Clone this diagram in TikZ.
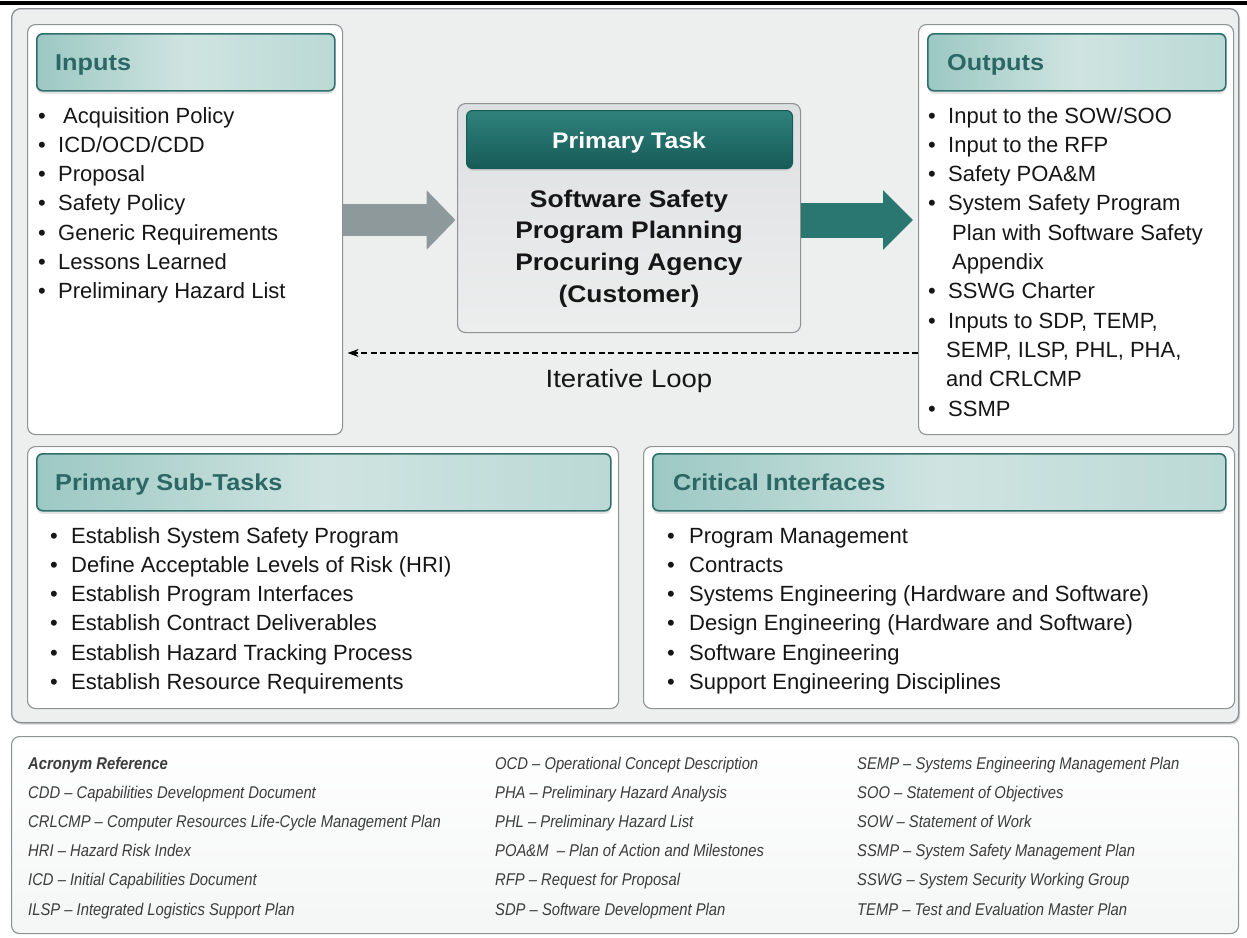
\documentclass[tikz,border=0pt]{standalone}
\usepackage{fontspec}
\setmainfont{Liberation Sans}
\newfontfamily\headfont[FakeStretch=1.1]{Liberation Sans}
\newfontfamily\acrfont[FakeStretch=0.87]{Liberation Sans}
\usetikzlibrary{arrows.meta,shadows}
\definecolor{frameFill}{HTML}{EDEFEF}
\definecolor{frameBorder}{HTML}{8A8E90}
\definecolor{boxBorder}{HTML}{8E9294}
\definecolor{hdrBorder}{HTML}{2E6F6B}
\definecolor{hdrL}{HTML}{9CC8C3}
\definecolor{hdrM}{HTML}{CFE4E1}
\definecolor{hdrR}{HTML}{BBD9D5}
\definecolor{titleCol}{HTML}{2B6865}
\definecolor{ptTop}{HTML}{2F827C}
\definecolor{ptBot}{HTML}{175B57}
\definecolor{primTop}{HTML}{DDE0E1}
\definecolor{primBot}{HTML}{ECEEEE}
\definecolor{grayArrow}{HTML}{8D999B}
\definecolor{tealArrow}{HTML}{2A7671}
\definecolor{acrText}{HTML}{3C3C3C}
\definecolor{textCol}{HTML}{161616}
\newcommand\bul[1][20pt]{\makebox[#1][l]{•}}
\begin{document}
\begin{tikzpicture}[x=1pt,y=-1pt,
  frame/.style={draw=frameBorder, line width=1.3pt, rounded corners=9pt, fill=frameFill,
    inner sep=0pt, anchor=north west,
    drop shadow={shadow xshift=1.5pt, shadow yshift=-2pt, opacity=0.35}},
  panel/.style={draw=boxBorder, line width=1.1pt, rounded corners=8pt, fill=white,
    inner sep=0pt, anchor=north west},
  header/.style={draw=hdrBorder, line width=1.6pt, rounded corners=6pt,
    left color=hdrL, right color=hdrR, middle color=hdrM, inner sep=0pt, anchor=north west,
    drop shadow={shadow xshift=0pt, shadow yshift=-3pt, opacity=0.22}},
  ptheader/.style={draw=ptBot, line width=1pt, rounded corners=6pt,
    top color=ptTop, bottom color=ptBot, inner sep=0pt, anchor=north west,
    drop shadow={shadow xshift=0pt, shadow yshift=-2pt, opacity=0.25}},
  primbox/.style={draw=boxBorder, line width=1.1pt, rounded corners=8pt,
    top color=primTop, bottom color=primBot, inner sep=0pt, anchor=north west},
  title/.style={inner sep=0pt, anchor=base west, text=titleCol,
    font=\headfont\bfseries\fontsize{23}{28}\selectfont},
  listtext/.style={inner sep=0pt, anchor=base west, text=textCol,
    font=\fontsize{22}{29.3}\selectfont},
  acrtext/.style={inner sep=0pt, anchor=base west, text=acrText,
    font=\acrfont\itshape\fontsize{17}{29.2}\selectfont},
  grayarr/.style={draw=grayArrow, line width=32pt, -{Triangle[length=29pt,width=58pt]}},
  tealarr/.style={draw=tealArrow, line width=35pt, -{Triangle[length=30pt,width=58pt]}},
  loop/.style={draw=black, line width=1.3pt, dash pattern=on 6pt off 3.5pt,
    -{Stealth[length=11pt,width=8pt]}}
]
\useasboundingbox (0,0) rectangle (1247,937);
\fill[black] (0,1) rectangle (1247,4.5);

% main frame
\node[frame, minimum width=1227pt, minimum height=714pt] (frame) at (11,8) {};

% Inputs
\node[panel, minimum width=315pt, minimum height=410pt] (inbox) at (27,24) {};
\node[header, minimum width=298pt, minimum height=57pt] (inhdr) at (36,33) {};
\node[title] (intitle) at (55,70.5) {Inputs};
\node[listtext] (inlist) at (38,123) {\begin{tabular}[t]{@{}l@{}}
\bul\hspace{5pt}Acquisition Policy\\
\bul ICD/OCD/CDD\\
\bul Proposal\\
\bul Safety Policy\\
\bul Generic Requirements\\
\bul Lessons Learned\\
\bul Preliminary Hazard List
\end{tabular}};

% Outputs
\node[panel, minimum width=315pt, minimum height=410pt] (outbox) at (918,24) {};
\node[header, minimum width=298pt, minimum height=57pt] (outhdr) at (927,33) {};
\node[title] (outtitle) at (947,70.5) {Outputs};
\node[listtext] (outlist) at (928,123) {\begin{tabular}[t]{@{}l@{}}
\bul Input to the SOW/SOO\\
\bul Input to the RFP\\
\bul Safety POA\&M\\
\bul System Safety Program\\
\hspace{24pt}Plan with Software Safety\\
\hspace{24pt}Appendix\\
\bul SSWG Charter\\
\bul Inputs to SDP, TEMP,\\
\hspace{18pt}SEMP, ILSP, PHL, PHA,\\
\hspace{18pt}and CRLCMP\\
\bul SSMP
\end{tabular}};

% Primary task
\node[primbox, minimum width=343pt, minimum height=229pt] (prim) at (457,103) {};
\node[ptheader, minimum width=326pt, minimum height=58pt] (primhdr) at (466,110) {};
\node[inner sep=0pt, anchor=base, text=white, font=\headfont\bfseries\fontsize{22.5}{28}\selectfont]
  (primtitle) at (629,148.5) {Primary Task};
\node[inner sep=0pt, anchor=base, text=textCol, font=\headfont\bfseries\fontsize{24}{31.7}\selectfont]
  (primtext) at (629,207) {\begin{tabular}[t]{@{}c@{}}Software Safety\\Program Planning\\Procuring Agency\\(Customer)\end{tabular}};

% block arrows
\coordinate (arry) at (0,220);
\coordinate (loopy) at (0,353);
\draw[grayarr] (inbox.east |- arry) -- ([xshift=-1.5pt]prim.west |- arry);
\draw[tealarr] (prim.east |- arry) -- ([xshift=-5pt]outbox.west |- arry);
\draw[loop] (outbox.west |- loopy) -- ([xshift=4.5pt]inbox.east |- loopy);
\node[inner sep=0pt, anchor=base, text=textCol, font=\headfont\fontsize{25}{30}\selectfont]
  (looplabel) at (629,387) {Iterative Loop};

% Primary Sub-Tasks
\node[panel, minimum width=591pt, minimum height=262pt] (subbox) at (27,446) {};
\node[header, minimum width=574pt, minimum height=57pt] (subhdr) at (36,453) {};
\node[title] (subtitle) at (55,490.5) {Primary Sub-Tasks};
\node[listtext] (sublist) at (50,543) {\begin{tabular}[t]{@{}l@{}}
\bul[21pt]Establish System Safety Program\\
\bul[21pt]Define Acceptable Levels of Risk (HRI)\\
\bul[21pt]Establish Program Interfaces\\
\bul[21pt]Establish Contract Deliverables\\
\bul[21pt]Establish Hazard Tracking Process\\
\bul[21pt]Establish Resource Requirements
\end{tabular}};

% Critical Interfaces
\node[panel, minimum width=591pt, minimum height=262pt] (critbox) at (643,446) {};
\node[header, minimum width=573pt, minimum height=57pt] (crithdr) at (652,453) {};
\node[title] (crittitle) at (673,490.5) {Critical Interfaces};
\node[listtext] (critlist) at (667,543) {\begin{tabular}[t]{@{}l@{}}
\bul[22pt]Program Management\\
\bul[22pt]Contracts\\
\bul[22pt]Systems Engineering (Hardware and Software)\\
\bul[22pt]Design Engineering (Hardware and Software)\\
\bul[22pt]Software Engineering\\
\bul[22pt]Support Engineering Disciplines
\end{tabular}};

% Acronym reference
\node[panel, top color=white, bottom color=frameFill!60, minimum width=1227pt, minimum height=197pt] (acrbox) at (11,736) {};
\node[acrtext] (acr1) at (28,769) {\begin{tabular}[t]{@{}l@{}}
{\bfseries Acronym Reference}\\
CDD – Capabilities Development Document\\
CRLCMP – Computer Resources Life-Cycle Management Plan\\
HRI – Hazard Risk Index\\
ICD – Initial Capabilities Document\\
ILSP – Integrated Logistics Support Plan
\end{tabular}};
\node[acrtext] (acr2) at (495,769) {\begin{tabular}[t]{@{}l@{}}
OCD – Operational Concept Description\\
PHA – Preliminary Hazard Analysis\\
PHL – Preliminary Hazard List\\
POA\&M\ \ – Plan of Action and Milestones\\
RFP – Request for Proposal\\
SDP – Software Development Plan
\end{tabular}};
\node[acrtext] (acr3) at (857,769) {\begin{tabular}[t]{@{}l@{}}
SEMP – Systems Engineering Management Plan\\
SOO – Statement of Objectives\\
SOW – Statement of Work\\
SSMP – System Safety Management Plan\\
SSWG – System Security Working Group\\
TEMP – Test and Evaluation Master Plan
\end{tabular}};
\end{tikzpicture}
\end{document}
